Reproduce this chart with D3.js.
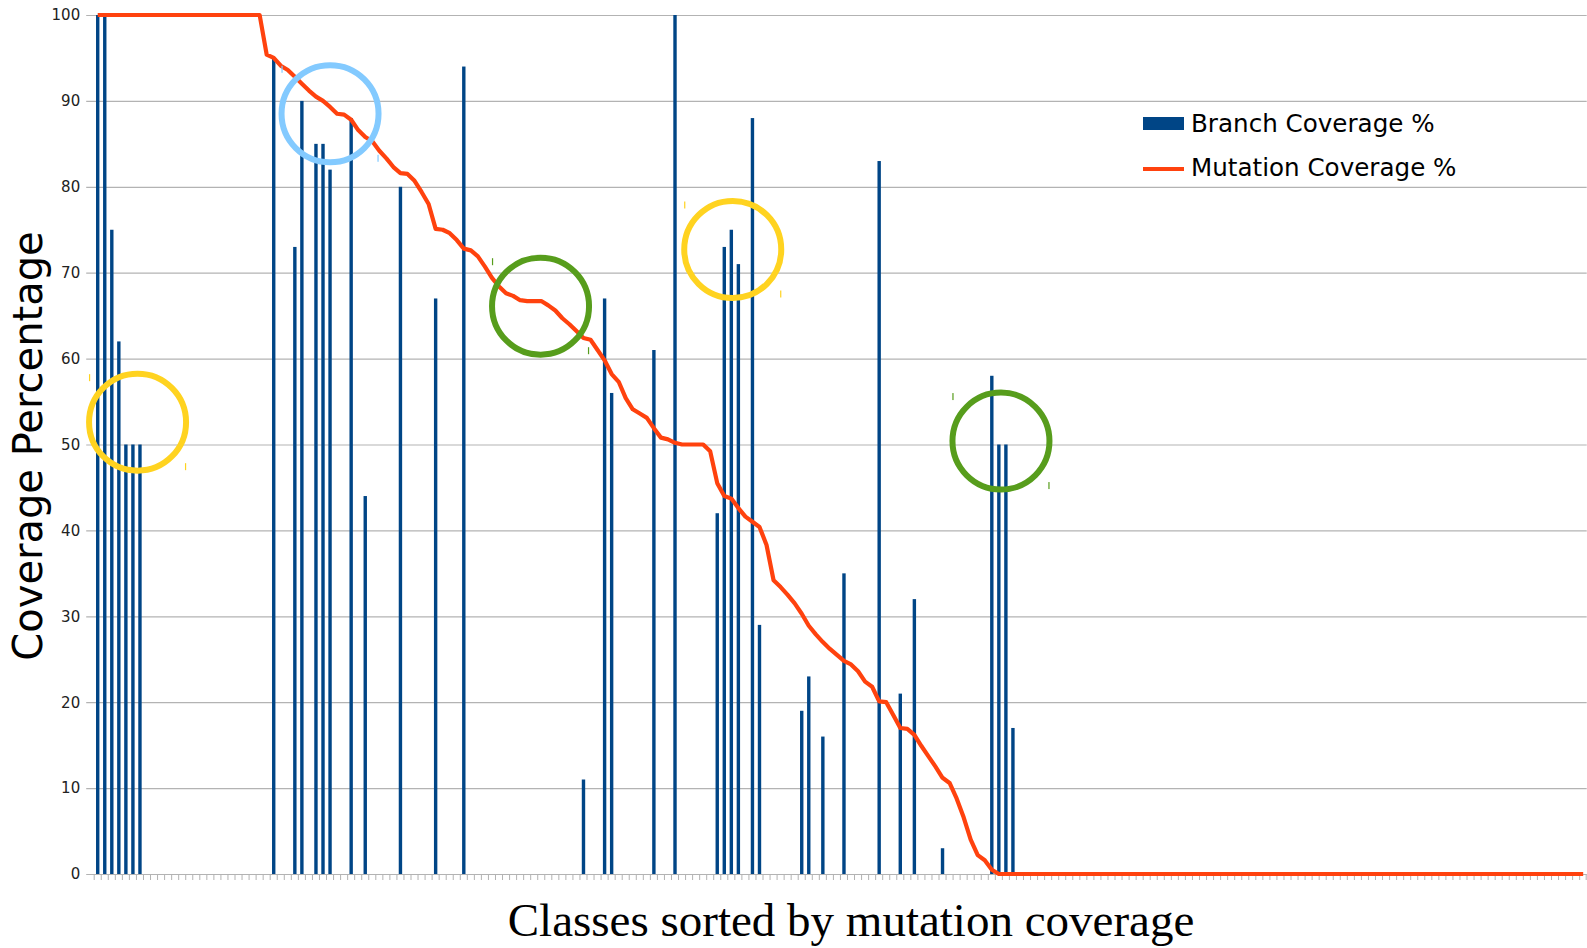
<!DOCTYPE html>
<html>
<head>
<meta charset="utf-8">
<script src="https://d3js.org/d3.v7.min.js"></script>
<style>
  body { margin: 0; background: #fff; }
  #chart svg { display: block; }
</style>
</head>
<body>
<div id="chart"></div>
<script>
// Data: 212 classes, sorted by mutation coverage
var classCount = 212;

// mutation coverage % per class (index 0..211)
var mutationCoverage = [
	100, 100, 100, 100, 100, 100, 100, 100, 100, 100, 100, 100,
	100, 100, 100, 100, 100, 100, 100, 100, 100, 100, 100, 100,
	95.4, 95.0, 94.1, 93.6, 92.8, 92.0, 91.2, 90.5, 90.0, 89.3, 88.5, 88.4,
	87.8, 86.6, 85.8, 85.3, 84.2, 83.3, 82.3, 81.6, 81.5, 80.7, 79.4, 78.0,
	75.1, 75.0, 74.6, 73.8, 72.8, 72.6, 71.9, 70.7, 69.4, 68.4, 67.6, 67.3,
	66.8, 66.7, 66.7, 66.7, 66.2, 65.6, 64.7, 64.0, 63.2, 62.4, 62.2, 61.0,
	59.8, 58.2, 57.3, 55.4, 54.1, 53.6, 53.1, 51.9, 50.8, 50.6, 50.2, 50,
	50, 50, 50, 49.2, 45.5, 44.0, 43.7, 42.6, 41.6, 41.0, 40.4, 38.3,
	34.2, 33.4, 32.5, 31.5, 30.3, 28.9, 27.9, 27.0, 26.2, 25.5, 24.8, 24.4,
	23.6, 22.4, 21.8, 20.1, 20.0, 18.5, 17.0, 16.9, 16.2, 14.9, 13.7, 12.5,
	11.2, 10.6, 8.8, 6.6, 4.0, 2.2, 1.6, 0.5, 0, 0, 0, 0,
	0, 0, 0, 0, 0, 0, 0, 0, 0, 0, 0, 0,
	0, 0, 0, 0, 0, 0, 0, 0, 0, 0, 0, 0,
	0, 0, 0, 0, 0, 0, 0, 0, 0, 0, 0, 0,
	0, 0, 0, 0, 0, 0, 0, 0, 0, 0, 0, 0,
	0, 0, 0, 0, 0, 0, 0, 0, 0, 0, 0, 0,
	0, 0, 0, 0, 0, 0, 0, 0, 0, 0, 0, 0,
	0, 0, 0, 0, 0, 0, 0, 0
];

// branch coverage, only classes that have a value
var branchClass = [0, 1, 2, 3, 4, 5, 6, 25, 28, 29, 31, 32, 33, 36, 38, 43, 48, 52,
	69, 72, 73, 79, 82, 88, 89, 90, 91, 93, 94, 100, 101, 103, 106, 111, 114, 116,
	120, 127, 128, 129, 130];
var branchCoverage = [100, 100, 75, 62, 50, 50, 50, 95, 73, 90, 85, 85, 82, 88, 44, 80, 67, 94,
	11, 67, 56, 61, 100, 42, 73, 75, 71, 88, 29, 19, 23, 16, 35, 83, 21, 32,
	3, 58, 50, 50, 17];

var yTicks = [0, 10, 20, 30, 40, 50, 60, 70, 80, 90, 100];
var seriesNames = ["Branch Coverage %", "Mutation Coverage %"];
var yTitle = "Coverage Percentage",
	xTitle = "Classes sorted by mutation coverage";

// annotation circles drawn over the chart: class position, value, colour
var circleClass = [6.16, 33.5, 63.4, 90.7, 128.8];
var circleValue = [52.6, 88.5, 66.1, 72.7, 50.4];
var circleColor = ["#ffd320", "#83caff", "#579d1c", "#ffd320", "#579d1c"];

// Layout
var width = 1587,
	height = 948,
	plotLeft = 94.2,
	plotRight = 1586.7,
	plotTop = 15,
	plotBottom = 874,
	barColor = "#004586",
	lineColor = "#ff420e",
	gridColor = "#b3b3b3";

var svg = d3.select("#chart").append("svg")
	.attr("width", width)
	.attr("height", height);

var x = d3.scaleBand()
	.domain(d3.range(classCount))
	.range([plotLeft, plotRight]);

var y = d3.scaleLinear()
	.domain([0, 100])
	.range([plotBottom, plotTop]);

function cx(i) { return x(i) + x.bandwidth() / 2; }

// grid + y axis
var yAxis = d3.axisLeft(y)
	.tickValues(yTicks)
	.tickSize(-(plotRight - plotLeft))
	.tickPadding(14)
	.tickFormat(d3.format("d"));

var gy = svg.append("g")
	.attr("class", "y-axis")
	.attr("transform", "translate(" + plotLeft + ",0)")
	.call(yAxis);
gy.select(".domain").remove();
gy.selectAll(".tick line")
	.attr("x1", -8)
	.attr("stroke", gridColor)
	.attr("stroke-width", 1.2);
gy.selectAll(".tick text")
	.attr("font-family", "DejaVu Sans")
	.attr("font-size", 15)
	.attr("fill", "#222");

// x axis: one small tick at each class boundary
var xBounds = d3.range(classCount + 1);
svg.append("g")
	.attr("class", "x-ticks")
	.selectAll("line")
	.data(xBounds)
	.enter().append("line")
	.attr("x1", function(d) { return d < classCount ? x(d) : plotRight - 0.5; })
	.attr("x2", function(d) { return d < classCount ? x(d) : plotRight - 0.5; })
	.attr("y1", plotBottom)
	.attr("y2", plotBottom + 6)
	.attr("stroke", gridColor)
	.attr("stroke-width", 1);

// bars
svg.append("g")
	.attr("class", "bars")
	.selectAll("rect")
	.data(branchClass)
	.enter().append("rect")
	.attr("x", function(d) { return cx(d) - 1.7; })
	.attr("width", 3.4)
	.attr("y", function(d, i) { return y(branchCoverage[i]); })
	.attr("height", function(d, i) { return plotBottom - y(branchCoverage[i]); })
	.attr("fill", barColor);

// mutation line
var line = d3.line()
	.x(function(d, i) { return cx(i); })
	.y(function(d) { return y(d); });

svg.append("path")
	.datum(mutationCoverage)
	.attr("fill", "none")
	.attr("stroke", lineColor)
	.attr("stroke-width", 4.2)
	.attr("stroke-linejoin", "round")
	.attr("d", line);

// legend
var legend = svg.append("g").attr("class", "legend");
legend.append("rect")
	.attr("x", 1143).attr("y", 117)
	.attr("width", 41).attr("height", 13)
	.attr("fill", barColor);
legend.append("line")
	.attr("x1", 1143).attr("x2", 1184)
	.attr("y1", 169).attr("y2", 169)
	.attr("stroke", lineColor)
	.attr("stroke-width", 4);
legend.selectAll("text")
	.data(seriesNames)
	.enter().append("text")
	.attr("x", 1191)
	.attr("y", function(d, i) { return 132 + i * 44; })
	.attr("font-family", "DejaVu Sans")
	.attr("font-size", 24.6)
	.attr("fill", "#000")
	.text(function(d) { return d; });

// axis titles
svg.append("text")
	.attr("transform", "translate(42,446) rotate(-90)")
	.attr("text-anchor", "middle")
	.attr("font-family", "DejaVu Sans")
	.attr("font-size", 40)
	.attr("fill", "#000")
	.text(yTitle);

svg.append("text")
	.attr("x", 851)
	.attr("y", 936)
	.attr("text-anchor", "middle")
	.attr("font-family", "Liberation Serif")
	.attr("font-size", 47)
	.attr("fill", "#000")
	.text(xTitle);

// annotation circles, with the little handle marks at their corners
var notes = svg.append("g").attr("class", "notes");
notes.selectAll("circle")
	.data(circleClass)
	.enter().append("circle")
	.attr("cx", function(d) { return plotLeft + d * x.step(); })
	.attr("cy", function(d, i) { return y(circleValue[i]); })
	.attr("r", 48.5)
	.attr("fill", "none")
	.attr("stroke", function(d, i) { return circleColor[i]; })
	.attr("stroke-width", 6);
notes.selectAll("rect.handle")
	.data(circleClass.concat(circleClass))
	.enter().append("rect")
	.attr("class", "handle")
	.attr("x", function(d, i) { return plotLeft + d * x.step() + (i < circleClass.length ? -48 : 48) - 0.6; })
	.attr("y", function(d, i) {
		var k = i % circleClass.length;
		return y(circleValue[k]) + (i < circleClass.length ? -48 : 41);
	})
	.attr("width", 1.2)
	.attr("height", 7)
	.attr("fill", function(d, i) { return circleColor[i % circleClass.length]; });
</script>
</body>
</html>
